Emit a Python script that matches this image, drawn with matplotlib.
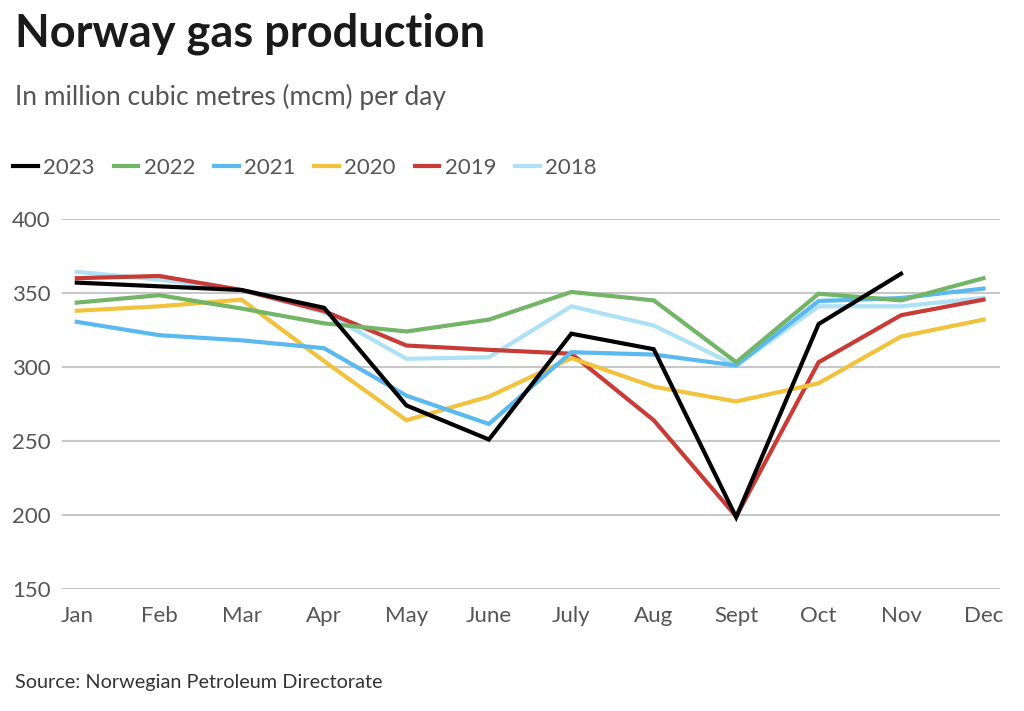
import matplotlib
matplotlib.use("Agg")
import matplotlib.pyplot as plt
import numpy as np

months = ["Jan", "Feb", "Mar", "Apr", "May", "June", "July", "Aug", "Sept", "Oct", "Nov", "Dec"]

gas_2023 = [357, 354.5, 352, 340, 274, 251, 322.5, 312, 198.5, 329, 363]
gas_2022 = [343.5, 348.5, 339.5, 329.5, 324, 332, 350.7, 345, 303.2, 349.5, 345, 360]
gas_2021 = [330.5, 321.5, 318, 312.7, 280.6, 261.5, 310, 308.4, 301, 344.6, 346.6, 353]
gas_2020 = [338, 341, 345.5, 304, 264, 280, 306, 286.7, 276.7, 289, 320.6, 332]
gas_2019 = [360, 361.5, 352, 337.8, 314.5, 311.6, 309, 264, 199, 303.2, 335, 345.5]
gas_2018 = [364.3, 359, 352, 337, 305.5, 306.6, 341, 328, 301, 341, 341, 346.6]

series = [
    ("2023", gas_2023, "#000000"),
    ("2022", gas_2022, "#72b566"),
    ("2021", gas_2021, "#5ab9f0"),
    ("2020", gas_2020, "#f2c23c"),
    ("2019", gas_2019, "#c83c35"),
    ("2018", gas_2018, "#aee0f6"),
]

plt.rcParams["font.family"] = ["Lato", "DejaVu Sans"]

fig = plt.figure(figsize=(10.24, 7.11), dpi=100)
ax = fig.add_axes([0.0605, 0.1716, 0.916, 0.5204])

x = np.arange(len(months))
# oldest first so 2023 ends on top
for name, vals, col in reversed(series):
    ax.plot(x[:len(vals)], vals, color=col, lw=3, label=name, solid_joinstyle="miter")

ax.set_xlim(-0.18, 11.2)
ax.set_ylim(150, 400)
ax.set_yticks([150, 200, 250, 300, 350, 400])
ax.set_xticks(x)
ax.set_xticklabels(months)
ax.grid(axis="y", color="#c8c8c8", lw=1.5)
ax.set_axisbelow(True)
for s in ax.spines.values():
    s.set_visible(False)
ax.tick_params(axis="both", length=0, labelsize=16, colors="#555555")
ax.tick_params(axis="x", pad=12)
ax.tick_params(axis="y", pad=8)

fig.text(0.015, 0.952, "Norway gas production", fontsize=32.5, fontweight="bold",
         color="#1a1a1a", va="center", ha="left")
fig.text(0.015, 0.864, "In million cubic metres (mcm) per day", fontsize=19,
         color="#555555", va="center", ha="left")
fig.text(0.015, 0.040, "Source: Norwegian Petroleum Directorate", fontsize=14.3,
         color="#333333", va="center", ha="left")

handles, labels = ax.get_legend_handles_labels()
leg = fig.legend(handles[::-1], labels[::-1], loc="center left", bbox_to_anchor=(0.013, 0.764),
                 ncol=6, frameon=False, fontsize=16, handlelength=1.1, handletextpad=0.25,
                 columnspacing=0.85, borderaxespad=0, borderpad=0)
for t in leg.get_texts():
    t.set_color("#555555")

fig.savefig("out.png", dpi=100)
